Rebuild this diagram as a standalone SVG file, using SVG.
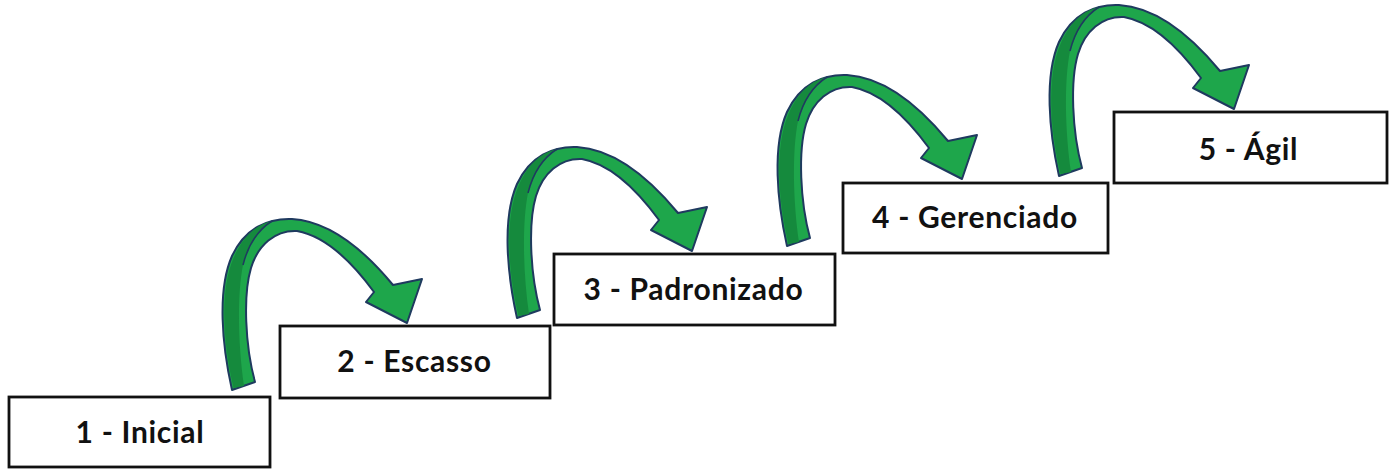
<svg xmlns="http://www.w3.org/2000/svg" width="1394" height="470" viewBox="0 0 1394 470">
  <style>
    .box { fill: #ffffff; stroke: #111111; stroke-width: 2.8; }
    .lbl { font-family: Lato, "Open Sans", "Liberation Sans", sans-serif; font-weight: bold; font-size: 30px; letter-spacing: 0.7px; fill: #111111; text-anchor: middle; }
    .arrow { fill: #1ea64b; stroke: #1f3a5f; stroke-width: 2; stroke-linejoin: round; }
    .back { fill: #158a3d; stroke: none; }
    .twist { fill: none; stroke: #1f3a5f; stroke-width: 1.5; }
  </style>
  <defs>
    <g id="curved-arrow">
      <path class="arrow" d="M232,390 C222,345 217,290 232,256 C245,228 268,218 292,219 C325,221 360,245 393,285 L422,279 L407,323 L366,302 L374,292 C352,262 325,236 297,231 C275,230 258,245 251,268 C243,295 245,345 255,382 Z"/>
      <path class="back" d="M233.5,388 C223.5,345 219,292 233.5,258 C244,234 258,224 272,221 C258,230 248,245 243,265 C237,295 238,345 244,386 Z"/>
      <path class="twist" d="M272,221 C258,230 248,245 243,265"/>
    </g>
  </defs>
  <rect width="1394" height="470" fill="#ffffff"/>
  <g id="connectors">
    <use href="#curved-arrow"/>
    <use href="#curved-arrow" transform="translate(285,-72)"/>
    <use href="#curved-arrow" transform="translate(555,-144)"/>
    <use href="#curved-arrow" transform="translate(827,-214)"/>
  </g>
  <g id="node1">
    <rect class="box" x="9" y="397" width="261" height="70"/>
    <text class="lbl" x="140" y="443">1 - Inicial</text>
  </g>
  <g id="node2">
    <rect class="box" x="280" y="326" width="270" height="72"/>
    <text class="lbl" x="414.5" y="372">2 - Escasso</text>
  </g>
  <g id="node3">
    <rect class="box" x="554" y="254" width="281" height="71"/>
    <text class="lbl" x="693.5" y="300">3 - Padronizado</text>
  </g>
  <g id="node4">
    <rect class="box" x="843" y="183" width="265" height="70"/>
    <text class="lbl" x="975" y="228">4 - Gerenciado</text>
  </g>
  <g id="node5">
    <rect class="box" x="1114" y="112" width="273" height="71"/>
    <text class="lbl" x="1248.5" y="160">5 - Ágil</text>
  </g>
</svg>
